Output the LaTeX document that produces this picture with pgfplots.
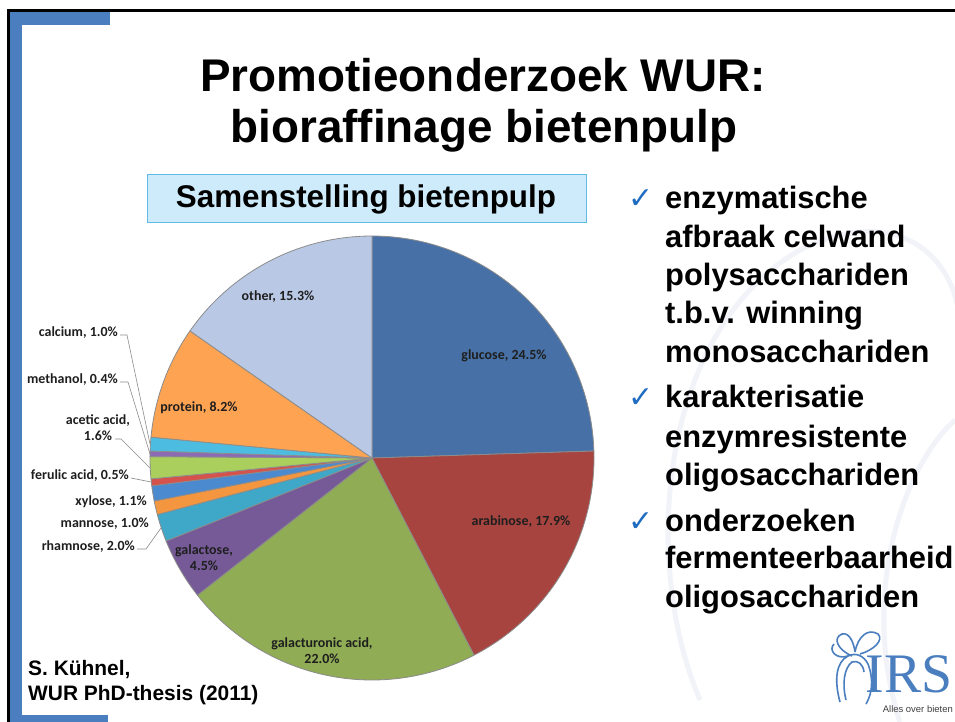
\documentclass[border=0pt]{standalone}
\usepackage{pgfplots}
\pgfplotsset{compat=1.18}
\usepackage{pgfplotstable}
\usepackage{fontspec}
\setmainfont{Liberation Sans}
\newfontfamily\calib{Carlito}
\newfontfamily\dejavu{DejaVu Sans}
\newfontfamily\irsserif{Liberation Serif}

\definecolor{slideblue}{HTML}{4A7EBF}
\definecolor{boxfill}{HTML}{CDEBFA}
\definecolor{boxedge}{HTML}{5FBAE6}
\definecolor{checkblue}{HTML}{1F6DC2}
\definecolor{leader}{HTML}{8C8C8C}
\definecolor{labtxt}{HTML}{1E1E1E}
\definecolor{wmark}{HTML}{F1F3F8}

\definecolor{cGlu}{HTML}{4771A6}
\definecolor{cAra}{HTML}{A8443F}
\definecolor{cGalA}{HTML}{90AC55}
\definecolor{cGal}{HTML}{765A97}
\definecolor{cRha}{HTML}{3FA8C8}
\definecolor{cMan}{HTML}{F3963F}
\definecolor{cXyl}{HTML}{4C8AD0}
\definecolor{cFer}{HTML}{D6524D}
\definecolor{cAce}{HTML}{AACF5C}
\definecolor{cMet}{HTML}{8C6BB4}
\definecolor{cCal}{HTML}{4CBDE1}
\definecolor{cPro}{HTML}{FDA352}
\definecolor{cOth}{HTML}{B9C9E5}

% composition of beet pulp (%), clockwise from 12 o'clock
\pgfplotstableread{
name value color
glucose 24.5 cGlu
arabinose 17.9 cAra
galacturonic 22.0 cGalA
galactose 4.5 cGal
rhamnose 2.0 cRha
mannose 1.0 cMan
xylose 1.1 cXyl
ferulic 0.5 cFer
acetic 1.6 cAce
methanol 0.4 cMet
calcium 1.0 cCal
protein 8.2 cPro
other 15.3 cOth
}\piedata

\begin{document}
\begin{tikzpicture}[x=1bp,y=1bp]
\clip (0,0) rectangle (955,-722);
\fill[white] (0,0) rectangle (955,-722);

% faint watermark
\draw[wmark, line width=5] (700,-700) .. controls (640,-560) and (660,-330) .. (800,-250) .. controls (900,-200) and (960,-260) .. (960,-330);
\draw[wmark, line width=5] (955,-420) .. controls (900,-470) and (860,-600) .. (900,-722);

% slide frame
\fill[black] (7,-9) rectangle (955,-12);
\fill[black] (7,-9) rectangle (10,-722);
\fill[slideblue] (10,-12) rectangle (110,-25);
\fill[slideblue] (10,-12) rectangle (22,-722);
\fill[slideblue] (10,-715) rectangle (108,-722);

% title
\node[anchor=base, font=\bfseries\fontsize{46}{52}\selectfont] at (483,-92) {Promotieonderzoek WUR:};
\node[anchor=base, font=\bfseries\fontsize{46}{52}\selectfont] at (484,-143) {bioraffinage bietenpulp};

% chart title box
\draw[fill=boxfill, draw=boxedge, line width=1] (147,-174) rectangle (586,-222);
\node[anchor=base, font=\bfseries\fontsize{31.5}{36}\selectfont] at (366,-207) {Samenstelling bietenpulp};

% pie chart
\begin{axis}[at={(372bp,-458bp)}, anchor=center, width=444bp, height=444bp,
  scale only axis, xmin=-1, xmax=1, ymin=-1, ymax=1, hide axis, clip=false]
\pgfplotstablegetrowsof{\piedata}
\pgfmathtruncatemacro\nrows{\pgfplotsretval-1}
\gdef\cum{0}
\pgfplotsforeachungrouped \i in {0,...,\nrows}{%
  \pgfplotstablegetelem{\i}{value}\of\piedata \let\val\pgfplotsretval
  \pgfplotstablegetelem{\i}{color}\of\piedata \let\col\pgfplotsretval
  \pgfmathsetmacro\pa{90-3.6*\cum}%
  \pgfmathsetmacro\pb{90-3.6*(\cum+\val)}%
  \edef\doslice{\noexpand\addplot[fill=\col, draw=black!45, line width=0.8bp, line join=round,
     domain=\pa:\pb, samples=80]
     ({cos(x)},{sin(x)}) -- (axis cs:0,0) -- cycle;}%
  \doslice
  \pgfmathsetmacro\tmp{\cum+\val}%
  \xdef\cum{\tmp}%
}
\end{axis}

% slice labels
\tikzset{lab/.style={text=labtxt, font=\calib\bfseries\fontsize{14}{16}\selectfont, inner sep=0pt}}
\node[lab, anchor=mid] at (504,-357) {glucose, 24.5\%};
\node[lab, anchor=mid] at (521,-523) {arabinose, 17.9\%};
\node[lab, anchor=mid] at (322,-645) {galacturonic acid,};
\node[lab, anchor=mid] at (322,-661) {22.0\%};
\node[lab, anchor=mid] at (204,-552) {galactose,};
\node[lab, anchor=mid] at (204,-568) {4.5\%};
\node[lab, anchor=mid] at (199,-409) {protein, 8.2\%};
\node[lab, anchor=mid] at (278,-298) {other, 15.3\%};

\node[lab, anchor=mid east] at (118,-334) {calcium, 1.0\%};
\node[lab, anchor=mid east] at (118,-381) {methanol, 0.4\%};
\node[lab, anchor=mid] at (98,-422) {acetic acid,};
\node[lab, anchor=mid] at (98,-438) {1.6\%};
\node[lab, anchor=mid east] at (129,-477) {ferulic acid, 0.5\%};
\node[lab, anchor=mid east] at (147,-503) {xylose, 1.1\%};
\node[lab, anchor=mid east] at (149,-525) {mannose, 1.0\%};
\node[lab, anchor=mid east] at (135,-548) {rhamnose, 2.0\%};

\draw[leader, line width=0.6] (120,-335) -- (127,-335) -- (150,-444);
\draw[leader, line width=0.6] (120,-382) -- (128,-382) -- (150,-454);
\draw[leader, line width=0.6] (115,-439) -- (121,-439) -- (150,-468);
\draw[leader, line width=0.6] (131,-478) -- (151,-482);
\draw[leader, line width=0.6] (137,-549) -- (146,-549) -- (161,-528);

% bullet text
\tikzset{bt/.style={anchor=base west, inner sep=0pt, font=\bfseries\fontsize{31}{36}\selectfont},
         ck/.style={anchor=base west, inner sep=0pt, text=checkblue, font=\dejavu\fontsize{30}{34}\selectfont}}
\node[ck] at (628,-208) {✓};
\node[bt] at (665,-208) {enzymatische};
\node[bt] at (665,-247) {afbraak celwand};
\node[bt] at (665,-285) {polysacchariden};
\node[bt] at (665,-323) {t.b.v. winning};
\node[bt] at (665,-362) {monosacchariden};
\node[ck] at (628,-407) {✓};
\node[bt] at (665,-407) {karakterisatie};
\node[bt] at (665,-447) {enzymresistente};
\node[bt] at (665,-485) {oligosacchariden};
\node[ck] at (628,-531) {✓};
\node[bt] at (665,-531) {onderzoeken};
\node[bt] at (665,-568) {fermenteerbaarheid};
\node[bt] at (665,-607) {oligosacchariden};

% source
\node[anchor=base west, inner sep=0pt, font=\bfseries\fontsize{21}{24}\selectfont] at (28,-675) {S. Kühnel,};
\node[anchor=base west, inner sep=0pt, font=\bfseries\fontsize{21}{24}\selectfont] at (28,-700) {WUR PhD-thesis (2011)};

% IRS logo
\begin{scope}[slideblue, line width=1.6]
\draw (840,-702) .. controls (834,-680) and (836,-662) .. (848,-656) .. controls (856,-652) and (864,-656) .. (868,-664) .. controls (874,-680) and (872,-694) .. (866,-704);
\draw (846,-700) .. controls (842,-684) and (844,-668) .. (852,-662) .. controls (858,-660) and (863,-664) .. (864,-672);
\draw (852,-656) .. controls (838,-650) and (832,-638) .. (842,-634) .. controls (850,-632) and (854,-644) .. (855,-652);
\draw (855,-652) .. controls (858,-636) and (868,-628) .. (878,-634) .. controls (884,-640) and (874,-650) .. (860,-654);
\draw (848,-656) .. controls (836,-660) and (828,-650) .. (834,-644);
\end{scope}
\node[anchor=base east, inner sep=0pt, text=slideblue, font=\irsserif\fontsize{56}{60}\selectfont] at (953,-692) {IRS};
\node[anchor=base east, inner sep=0pt, text=black!75, font=\fontsize{9.5}{12}\selectfont] at (953,-712) {Alles over bieten};
\end{tikzpicture}
\end{document}
